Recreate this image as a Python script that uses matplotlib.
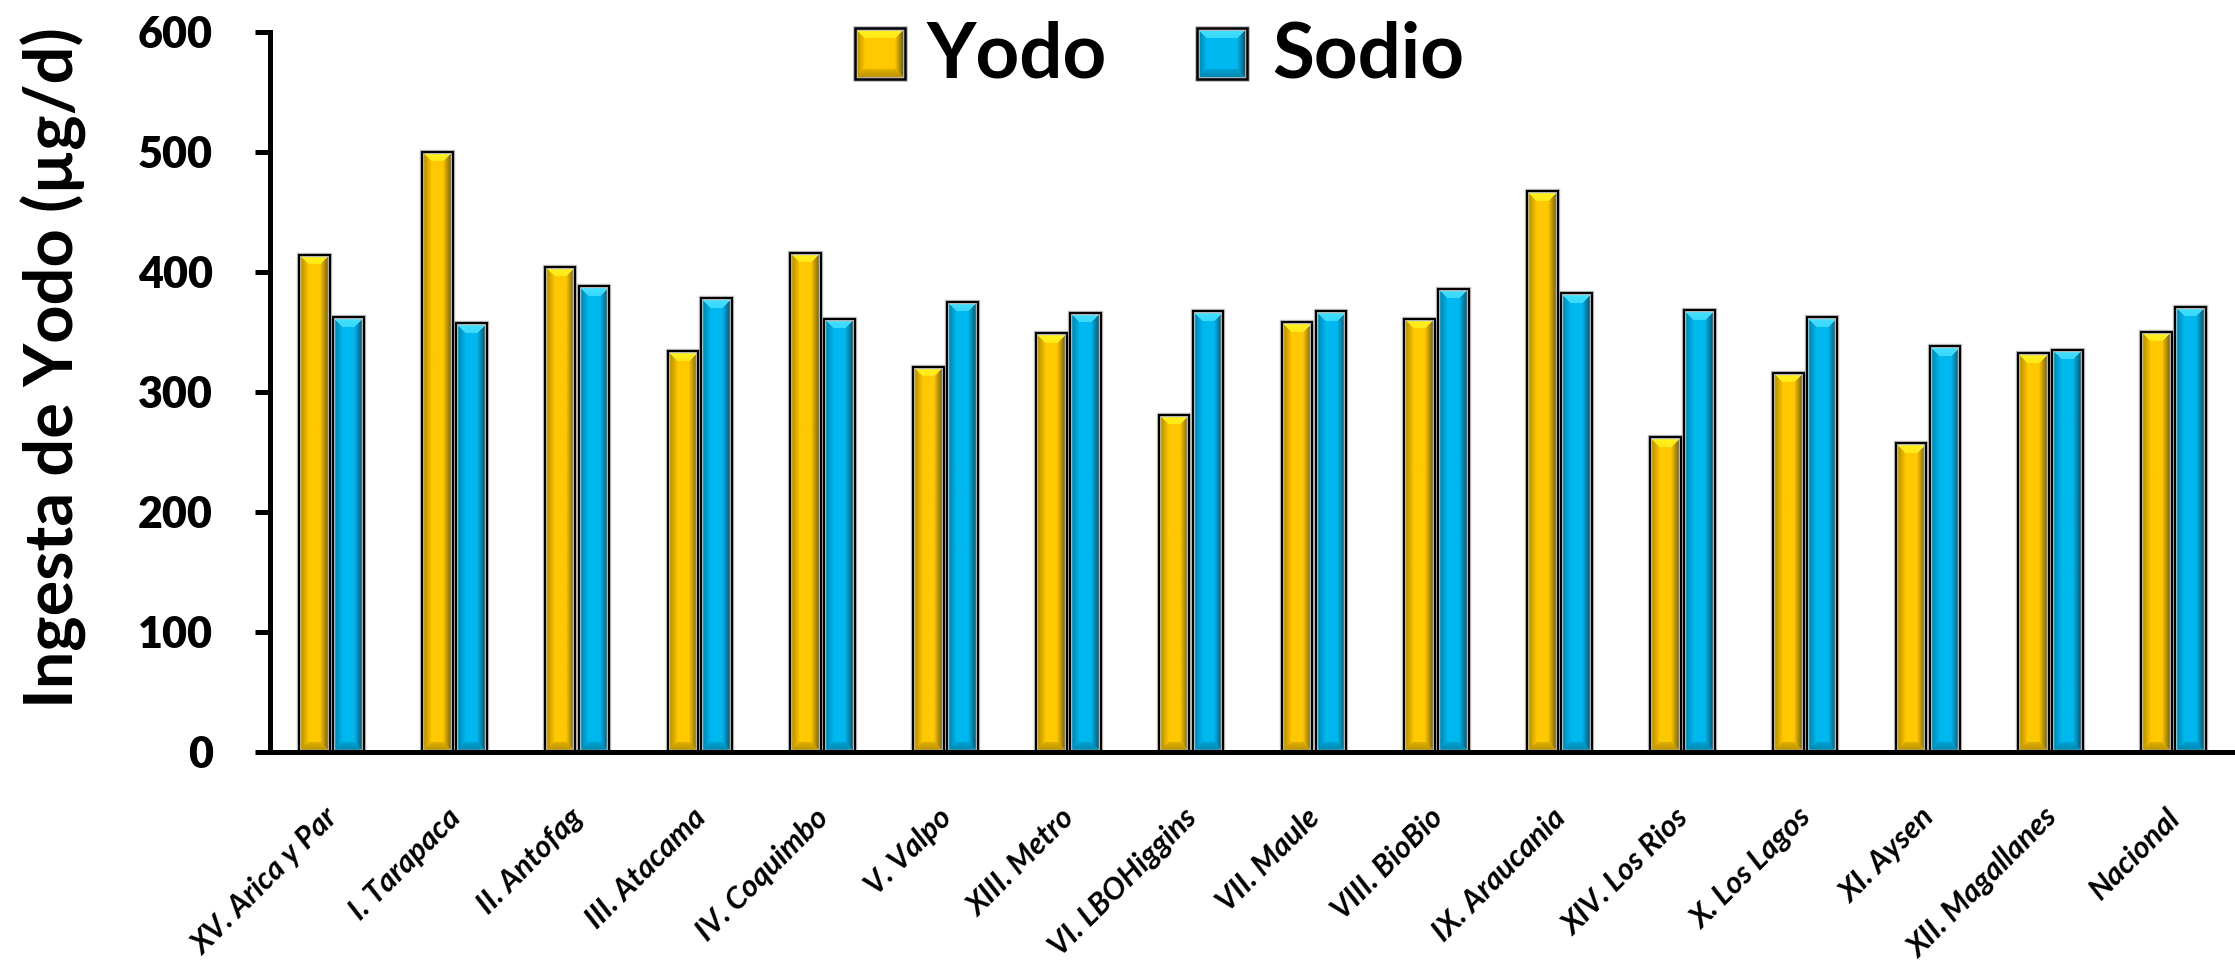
import numpy as np
import matplotlib
matplotlib.use("Agg")
import matplotlib.pyplot as plt
from matplotlib.patches import Rectangle
from matplotlib.transforms import ScaledTranslation

# Regional iodine / sodium-derived iodine intake (µg/d)
regions = ["XV. Arica y Par", "I. Tarapaca", "II. Antofag", "III. Atacama",
           "IV. Coquimbo", "V. Valpo", "XIII. Metro", "VI. LBOHiggins",
           "VII. Maule", "VIII. BioBio", "IX. Araucania", "XIV. Los Rios",
           "X. Los Lagos", "XI. Aysen", "XII. Magallanes", "Nacional"]
yodo = [414, 500, 404, 334, 416, 321, 349, 281, 358, 361, 467, 262, 316, 257, 332, 350]
sodio = [362, 357, 388, 378, 361, 375, 366, 367, 367, 386, 382, 368, 362, 338, 335, 371]
series_names = ["Yodo", "Sodio"]
yticks = [0, 100, 200, 300, 400, 500, 600]

W, H, DPI = 2235, 967, 100
FONT = "Lato"

# base, highlight colours for the bevelled bars
gold = dict(base=np.array([255, 200, 0]) / 255, light=np.array([255, 242, 30]) / 255)
blue = dict(base=np.array([0, 184, 240]) / 255, light=np.array([70, 225, 255]) / 255)


def bevel_image(w, h, base, light, d):
    """RGB array of a bevelled rectangle, w x h pixels, bevel depth d."""
    w = max(int(round(w)), 2)
    h = max(int(round(h)), 2)
    i = np.arange(h)[:, None] + 0.5
    j = np.arange(w)[None, :] + 0.5
    dt = np.broadcast_to(i, (h, w))
    db = np.broadcast_to(h - i, (h, w))
    dl = np.broadcast_to(j, (h, w))
    dr = np.broadcast_to(w - j, (h, w))
    stack = np.stack([dt, db, dl, dr])
    side = np.argmin(stack, axis=0)
    dmin = np.min(stack, axis=0)
    img = np.empty((h, w, 3))
    img[:] = base
    t = np.clip(dmin / d, 0, 1)[..., None]
    inside = dmin < d
    # top bevel: bright highlight
    m = inside & (side == 0)
    img[m] = (light * (1 - 0.2 * t) + base * 0.2 * t)[m]
    # bottom bevel: shaded
    m = inside & (side == 1)
    img[m] = (base * (0.70 + 0.18 * t))[m]
    # left bevel: slight shadow at the edge
    m = inside & (side == 2)
    img[m] = (base * (0.65 + 0.35 * t))[m]
    # right bevel: deep shadow towards the edge
    m = inside & (side == 3)
    img[m] = (base * (0.38 + 0.62 * t))[m]
    return np.clip(img, 0, 1)


fig = plt.figure(figsize=(W / DPI, H / DPI), dpi=DPI)
ax_left, ax_right = 270 / W, 1.0
ax_bottom, ax_top = 1 - 752 / H, 1 - 31.7 / H
ax = fig.add_axes([ax_left, ax_bottom, ax_right - ax_left, ax_top - ax_bottom])

n = len(regions)
x = np.arange(n)
bw = 0.25
off = 0.138
ax.set_xlim(-0.5, n - 0.5)
ax.set_ylim(0, 600)

px_per_x = (ax_right - ax_left) * W / n
px_per_y = (ax_top - ax_bottom) * H / 600

for vals, dx, col in [(yodo, -off, gold), (sodio, off, blue)]:
    bars = ax.bar(x + dx, vals, width=bw, color=col["base"], linewidth=0, zorder=2)
    for rect in bars:
        x0, y0 = rect.get_x(), rect.get_y()
        w_, h_ = rect.get_width(), rect.get_height()
        img = bevel_image(w_ * px_per_x, h_ * px_per_y, col["base"], col["light"], 10)
        im = ax.imshow(img, extent=(x0, x0 + w_, y0, y0 + h_), aspect="auto",
                       interpolation="bilinear", zorder=3)
        im.set_clip_path(rect)
    ax.bar(x + dx, vals, width=bw, fill=False, edgecolor="#c8c8c8", linewidth=3.2, zorder=4)
    ax.bar(x + dx, vals, width=bw, fill=False, edgecolor="black", linewidth=1.6, zorder=5)

# axes styling
for s in ["top", "right"]:
    ax.spines[s].set_visible(False)
ax.spines["left"].set_linewidth(3.6)
ax.spines["bottom"].set_linewidth(3.6)
ax.spines["bottom"].set_zorder(6)
ax.set_yticks(yticks)
ax.set_yticklabels([str(v) for v in yticks], fontfamily=FONT, fontweight="heavy", fontsize=31)
ax.tick_params(axis="y", direction="out", length=11, width=3.6, pad=30)
ax.set_xticks(x)
ax.set_xticklabels(regions, rotation=45, ha="right", va="top", rotation_mode="anchor",
                   fontfamily=FONT, fontweight="bold", fontstyle="italic", fontsize=22)
ax.tick_params(axis="x", length=0, pad=37)
# nudge the slanted labels slightly left so their ends sit over the group centres
shift = ScaledTranslation(-6 / 72, 0, fig.dpi_scale_trans)
for lbl in ax.get_xticklabels():
    lbl.set_transform(lbl.get_transform() + shift)

ax.set_ylabel("Ingesta de Yodo (µg/d)", fontfamily=FONT, fontweight="bold", fontsize=48)
ax.yaxis.set_label_coords(-0.093, 0.534)

# legend: bevelled swatches and labels across the top
legend_items = [(series_names[0], gold, 855, 927), (series_names[1], blue, 1197, 1272)]
sw, sh, sy = 50, 51, 28
for label, col, sx, tx in legend_items:
    img = bevel_image(sw, sh, col["base"], col["light"], 10)
    fig.figimage((img * 255).astype(np.uint8), xo=sx, yo=H - sy - sh, zorder=3)
    for ec, lw in [("#bcbcbc", 3.4), ("black", 1.8)]:
        fig.add_artist(Rectangle((sx / W, 1 - (sy + sh) / H), sw / W, sh / H,
                                 transform=fig.transFigure, fill=False,
                                 edgecolor=ec, linewidth=lw, zorder=4))
    fig.text(tx / W, 1 - 78 / H, label, fontfamily=FONT, fontweight="bold",
             fontsize=55, va="baseline", ha="left")

fig.savefig("out.png", dpi=DPI)
